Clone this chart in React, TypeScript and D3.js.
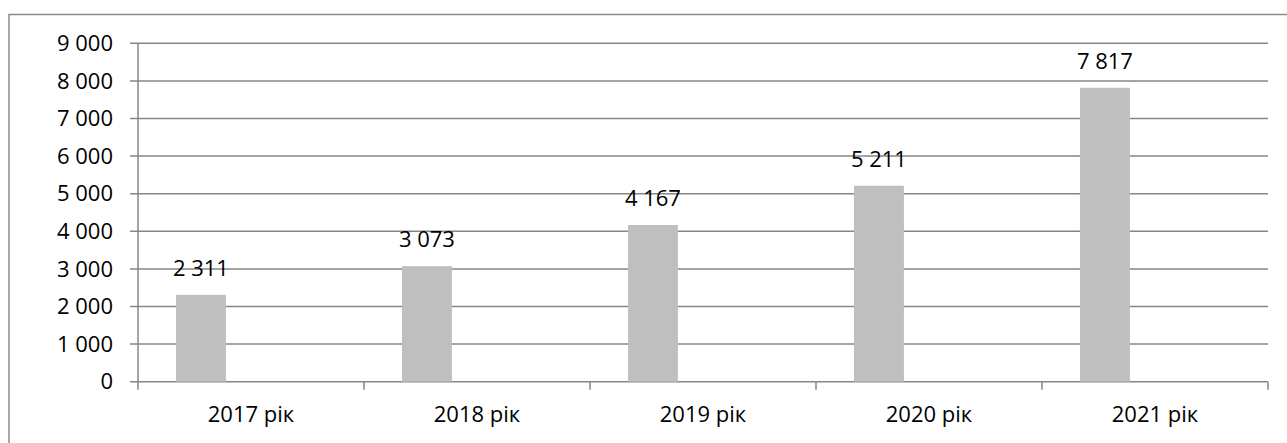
import React from "react";
import * as d3 from "d3";

const categories = ["2017 рік", "2018 рік", "2019 рік", "2020 рік", "2021 рік"];
const values = [2311, 3073, 4167, 5211, 7817];
const yTicks = [0, 1000, 2000, 3000, 4000, 5000, 6000, 7000, 8000, 9000];

const W = 1287;
const H = 443;
const plotLeft = 138;
const plotRight = 1268;
const plotTop = 43.3;
const plotBottom = 381.7;
const FONT = "'Open Sans', 'Liberation Sans', sans-serif";
const FS = 22;

const fmt = (v: number) => {
  const s = String(v);
  return s.replace(/\B(?=(\d{3})+(?!\d))/g, " ");
};

export default function App() {
  const x = d3.scaleBand<string>().domain(categories).range([plotLeft, plotRight]).padding(0);
  const y = d3.scaleLinear().domain([0, 9000]).range([plotBottom, plotTop]);
  const bw = x.bandwidth();
  const barOff = bw * 0.168;
  const barW = bw * 0.221;
  const grid = "#868686";

  return (
    <svg
      width={W}
      height={H}
      style={{ position: "absolute", left: 0, top: 0, background: "#fff" }}
      fontFamily={FONT}
    >
      <rect x={9} y={14.5} width={1400} height={600} fill="none" stroke="#8c8c8c" strokeWidth={1.5} />
      {yTicks.map((t) => (
        <g key={t}>
          <line x1={plotLeft - 8} x2={plotRight} y1={y(t)} y2={y(t)} stroke={grid} strokeWidth={1.5} />
          <text x={113} y={y(t)} dy="0.35em" textAnchor="end" fontSize={FS} fill="#000">
            {fmt(t)}
          </text>
        </g>
      ))}
      <line x1={plotLeft} x2={plotLeft} y1={plotTop} y2={plotBottom + 8} stroke={grid} strokeWidth={1.5} />
      {categories.map((c) => (
        <line key={c + "t"} x1={x(c)! + bw} x2={x(c)! + bw} y1={plotBottom} y2={plotBottom + 8} stroke={grid} strokeWidth={1.5} />
      ))}
      {categories.map((c, i) => (
        <g key={c}>
          <rect x={x(c)! + barOff} y={y(values[i])} width={barW} height={plotBottom - y(values[i])} fill="#bfbfbf" />
          <text x={x(c)! + barOff + barW / 2} y={y(values[i]) - 19} textAnchor="middle" fontSize={FS} fill="#000">
            {fmt(values[i])}
          </text>
          <text x={x(c)! + bw / 2} y={421.5} textAnchor="middle" fontSize={FS} fill="#000">
            {c}
          </text>
        </g>
      ))}
    </svg>
  );
}
